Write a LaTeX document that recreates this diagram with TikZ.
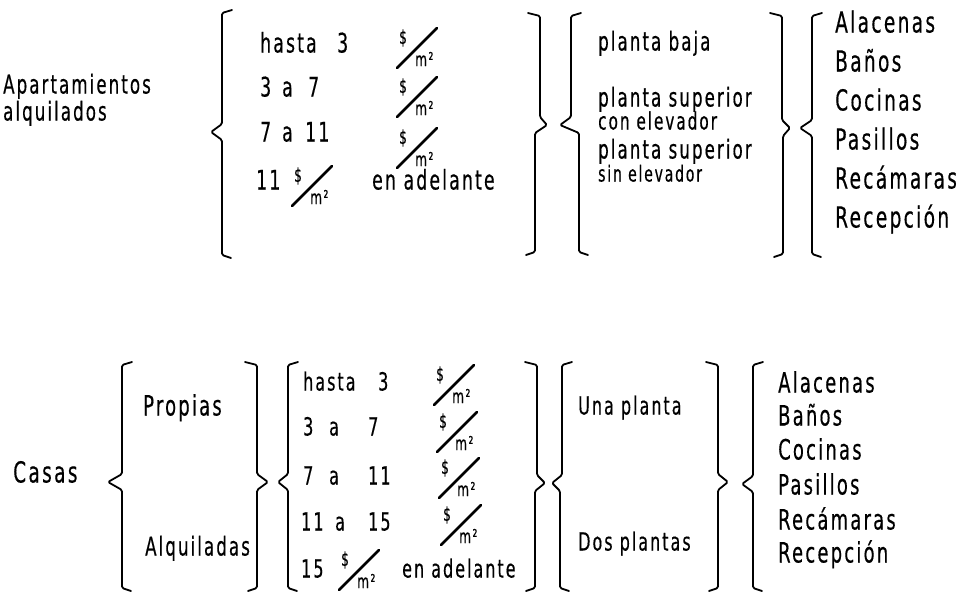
\documentclass[tikz,border=0pt]{standalone}
\usepackage{fontspec}
\setmainfont{DejaVu Sans}[FakeStretch=0.64, LetterSpace=8, FakeBold=0.4]

% left brace "{" : upper x, lower x, top y, tip x, tip y, bottom y
\newcommand{\lbrc}[6]{%
  \draw[brc] ({#1+10},#3) -- (#1,{#3+3}) -- (#1,{#5-8}) -- (#4,#5)
    -- (#2,{#5+8}) -- (#2,{#6-3}) -- ({#2+9},#6);}
% right brace "}" : upper x, lower x, top y, tip x, tip y, bottom y
\newcommand{\rbrc}[6]{%
  \draw[brc] ({#1-12},#3) -- (#1,{#3+3}) -- (#1,{#5-8}) -- (#4,#5)
    -- (#2,{#5+8}) -- (#2,{#6-3}) -- ({#2-9},#6);}

\tikzset{
  brc/.style={line width=1.8pt, line join=round, line cap=round, rounded corners=1.5pt},
  txt/.style={inner sep=0pt, anchor=west, text height=0.75em, text depth=0.25em},
  fs/.style={txt, font=\fontsize{#1}{#1}\selectfont},
  unit/.style={inner sep=0pt, font=\fontsize{19}{19}\selectfont},
  slashline/.style={line width=2.6pt, line cap=round},
  persq/.pic={
    \draw[slashline] (-20,20) -- (20,-20);
    \node[unit] (-d) at (-14,-10) {\$};
    \node[unit, anchor=west] (-m) at (-2,11) {m²};
  }
}

\begin{document}
\begin{tikzpicture}[x=1pt, y=-1pt]
\useasboundingbox[fill=white] (0,0) rectangle (956,595);

% ---------------- apartments ----------------
\node[fs=26] (apt1) at (3,91) {Apartamientos};
\node[fs=26] (apt2) at (3,118) {alquilados};
\lbrc{222}{222}{10}{211}{132}{258}

\node[fs=27] (a1) at (260,50) {hasta};
\node[fs=27] (a1n) at (337,50) {3};
\pic (fa1) at (417,48) {persq};
\node[fs=27] (a2a) at (260,94) {3};
\node[fs=27] (a2b) at (282,94) {a};
\node[fs=27] (a2c) at (308,94) {7};
\pic (fa2) at (417,97) {persq};
\node[fs=27] (a3a) at (260,139) {7};
\node[fs=27] (a3b) at (282,139) {a};
\node[fs=27] (a3c) at (305,139) {11};
\pic (fa3) at (417,148) {persq};
\node[fs=27] (a4a) at (256,187) {11};
\pic (fa4) at (312,186) {persq};
\node[fs=27] (a4b) at (372,187) {en adelante};

\rbrc{540}{535}{13}{547}{125}{255}
\lbrc{571}{579}{13}{560}{125}{255}

\node[fs=26] (p1) at (598,48) {planta baja};
\node[fs=26] (p2) at (598,104) {planta superior};
\node[fs=24] (p3) at (598,127) {con elevador};
\node[fs=26] (p4) at (598,156) {planta superior};
\node[fs=22] (p5) at (598,179) {sin elevador};

\rbrc{782}{783}{13}{790}{128}{257}
\lbrc{812}{812}{13}{800}{128}{257}

\node[fs=29] (r1) at (835,30) {Alacenas};
\node[fs=29] (r2) at (835,69) {Baños};
\node[fs=29] (r3) at (835,108) {Cocinas};
\node[fs=29] (r4) at (835,147) {Pasillos};
\node[fs=29] (r5) at (835,186) {Recámaras};
\node[fs=29] (r6) at (835,225) {Recepción};

% ---------------- houses ----------------
\node[fs=29] (cas) at (13,480) {Casas};
\lbrc{122}{122}{362}{108}{482}{591}

\node[fs=28] (own) at (143,413) {Propias};
\node[fs=26] (rent) at (145,553) {Alquiladas};

\rbrc{257}{257}{362}{268}{482}{591}
\lbrc{288}{288}{362}{278}{482}{591}

\node[fs=25] (b1) at (303,388) {hasta};
\node[fs=25] (b1n) at (378,388) {3};
\pic (fb1) at (454,385) {persq};
\node[fs=25] (b2a) at (303,433) {3};
\node[fs=25] (b2b) at (329,433) {a};
\node[fs=25] (b2c) at (368,433) {7};
\pic (fb2) at (457,432) {persq};
\node[fs=25] (b3a) at (303,482) {7};
\node[fs=25] (b3b) at (329,482) {a};
\node[fs=25] (b3c) at (368,482) {11};
\pic (fb3) at (459,478) {persq};
\node[fs=25] (b4a) at (301,528) {11};
\node[fs=25] (b4b) at (335,528) {a};
\node[fs=25] (b4c) at (368,528) {15};
\pic (fb4) at (461,525) {persq};
\node[fs=25] (b5a) at (301,575) {15};
\pic (fb5) at (359,570) {persq};
\node[fs=25] (b5b) at (402,575) {en adelante};

\rbrc{537}{535}{362}{545}{483}{591}
\lbrc{562}{560}{362}{552}{483}{591}

\node[fs=25] (f1) at (578,412) {Una planta};
\node[fs=25] (f2) at (578,548) {Dos plantas};

\rbrc{718}{718}{362}{728}{482}{591}
\lbrc{753}{753}{362}{742}{484}{591}

\node[fs=28] (q1) at (778,390) {Alacenas};
\node[fs=28] (q2) at (778,423) {Baños};
\node[fs=28] (q3) at (778,457) {Cocinas};
\node[fs=28] (q4) at (778,492) {Pasillos};
\node[fs=28] (q5) at (778,527) {Recámaras};
\node[fs=28] (q6) at (778,560) {Recepción};
\end{tikzpicture}
\end{document}
